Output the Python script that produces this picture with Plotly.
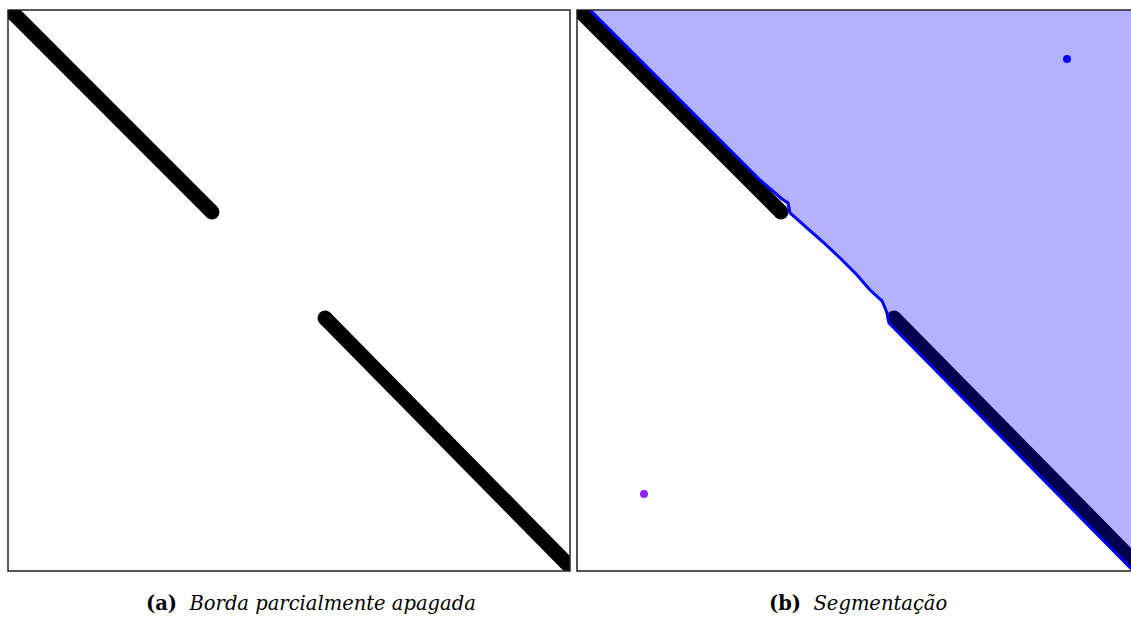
import plotly.graph_objects as go

# Image coordinates (pixels, origin at the top-left of each panel)
IMG_W, IMG_H = 562, 561
RIGHT_VISIBLE_W = 554

# Two thick stroke segments forming the partially erased edge
seg1_x = [-8, 204]
seg1_y = [-10, 202]
seg2_x = [317, 580]
seg2_y = [308, 575]
# Round caps at the inner ends of the strokes
cap_x = [204, 317]
cap_y = [202, 308]
STROKE_W = 15

# Segmented region (above the recovered boundary)
region_x = [8, 183, 205, 211, 213, 221, 233, 246, 263, 280, 293, 305, 308, 310, 311, 312, 575, 640, 640, 8]
region_y = [-5, 170, 189, 193, 203, 210, 220, 232, 248, 265, 280, 291, 298, 303, 308, 313, 580, 580, -5, -5]

# Seed points
seed_in_x, seed_in_y = [490], [49]
seed_out_x, seed_out_y = [67], [484]

captions = ["<b>(a)</b>  <i>Borda parcialmente apagada</i>", "<b>(b)</b>  <i>Segmentação</i>"]

FIG_W, FIG_H = 1131, 617
left_px = (8, 570)
right_px = (577, 1131)
top_px, bottom_px = 10, 571

fig = go.Figure()

for xa, ya in (("x", "y"), ("x2", "y2")):
    fig.add_trace(go.Scatter(x=seg1_x, y=seg1_y, mode="lines", xaxis=xa, yaxis=ya,
                             line=dict(color="black", width=STROKE_W), hoverinfo="skip"))
    fig.add_trace(go.Scatter(x=seg2_x, y=seg2_y, mode="lines", xaxis=xa, yaxis=ya,
                             line=dict(color="black", width=STROKE_W), hoverinfo="skip"))
    fig.add_trace(go.Scatter(x=cap_x, y=cap_y, mode="markers", xaxis=xa, yaxis=ya,
                             marker=dict(color="black", size=STROKE_W, line=dict(width=0)),
                             hoverinfo="skip"))

fig.add_trace(go.Scatter(x=region_x, y=region_y, mode="lines", fill="toself",
                         fillcolor="rgba(0,0,255,0.3)", xaxis="x2", yaxis="y2",
                         line=dict(color="#0000ff", width=3), hoverinfo="skip"))
fig.add_trace(go.Scatter(x=seed_in_x, y=seed_in_y, mode="markers", xaxis="x2", yaxis="y2",
                         marker=dict(color="#0000ff", size=8, line=dict(width=0))))
fig.add_trace(go.Scatter(x=seed_out_x, y=seed_out_y, mode="markers", xaxis="x2", yaxis="y2",
                         marker=dict(color="#9124ee", size=8, line=dict(width=0))))

ydom = [1 - bottom_px / FIG_H, 1 - top_px / FIG_H]
axis_common = dict(showgrid=False, zeroline=False, showticklabels=False, ticks="",
                   showline=False, fixedrange=True)

fig.update_layout(
    width=FIG_W, height=FIG_H,
    margin=dict(l=0, r=0, t=0, b=0),
    paper_bgcolor="white", plot_bgcolor="white",
    showlegend=False,
    xaxis=dict(domain=[left_px[0] / FIG_W, left_px[1] / FIG_W], range=[0, IMG_W], **axis_common),
    yaxis=dict(domain=ydom, range=[IMG_H, 0], **axis_common),
    xaxis2=dict(domain=[right_px[0] / FIG_W, 1], range=[0, RIGHT_VISIBLE_W], **axis_common),
    yaxis2=dict(domain=ydom, range=[IMG_H, 0], anchor="x2", **axis_common),
)

# Panel frames
frame = dict(color="#222222", width=1.5)
fig.add_shape(type="rect", xref="paper", yref="paper",
              x0=left_px[0] / FIG_W, x1=left_px[1] / FIG_W, y0=ydom[0], y1=ydom[1], line=frame)
fig.add_shape(type="rect", xref="paper", yref="paper",
              x0=right_px[0] / FIG_W, x1=1.02, y0=ydom[0], y1=ydom[1], line=frame)

cap_font = dict(family="DejaVu Serif", size=19.5, color="black")
fig.add_annotation(text=captions[0], xref="paper", yref="paper", x=311 / FIG_W, y=1 - 603 / FIG_H,
                   showarrow=False, xanchor="center", yanchor="middle", font=cap_font)
fig.add_annotation(text=captions[1], xref="paper", yref="paper", x=858 / FIG_W, y=1 - 603 / FIG_H,
                   showarrow=False, xanchor="center", yanchor="middle", font=cap_font)

fig.write_html("out.html")
